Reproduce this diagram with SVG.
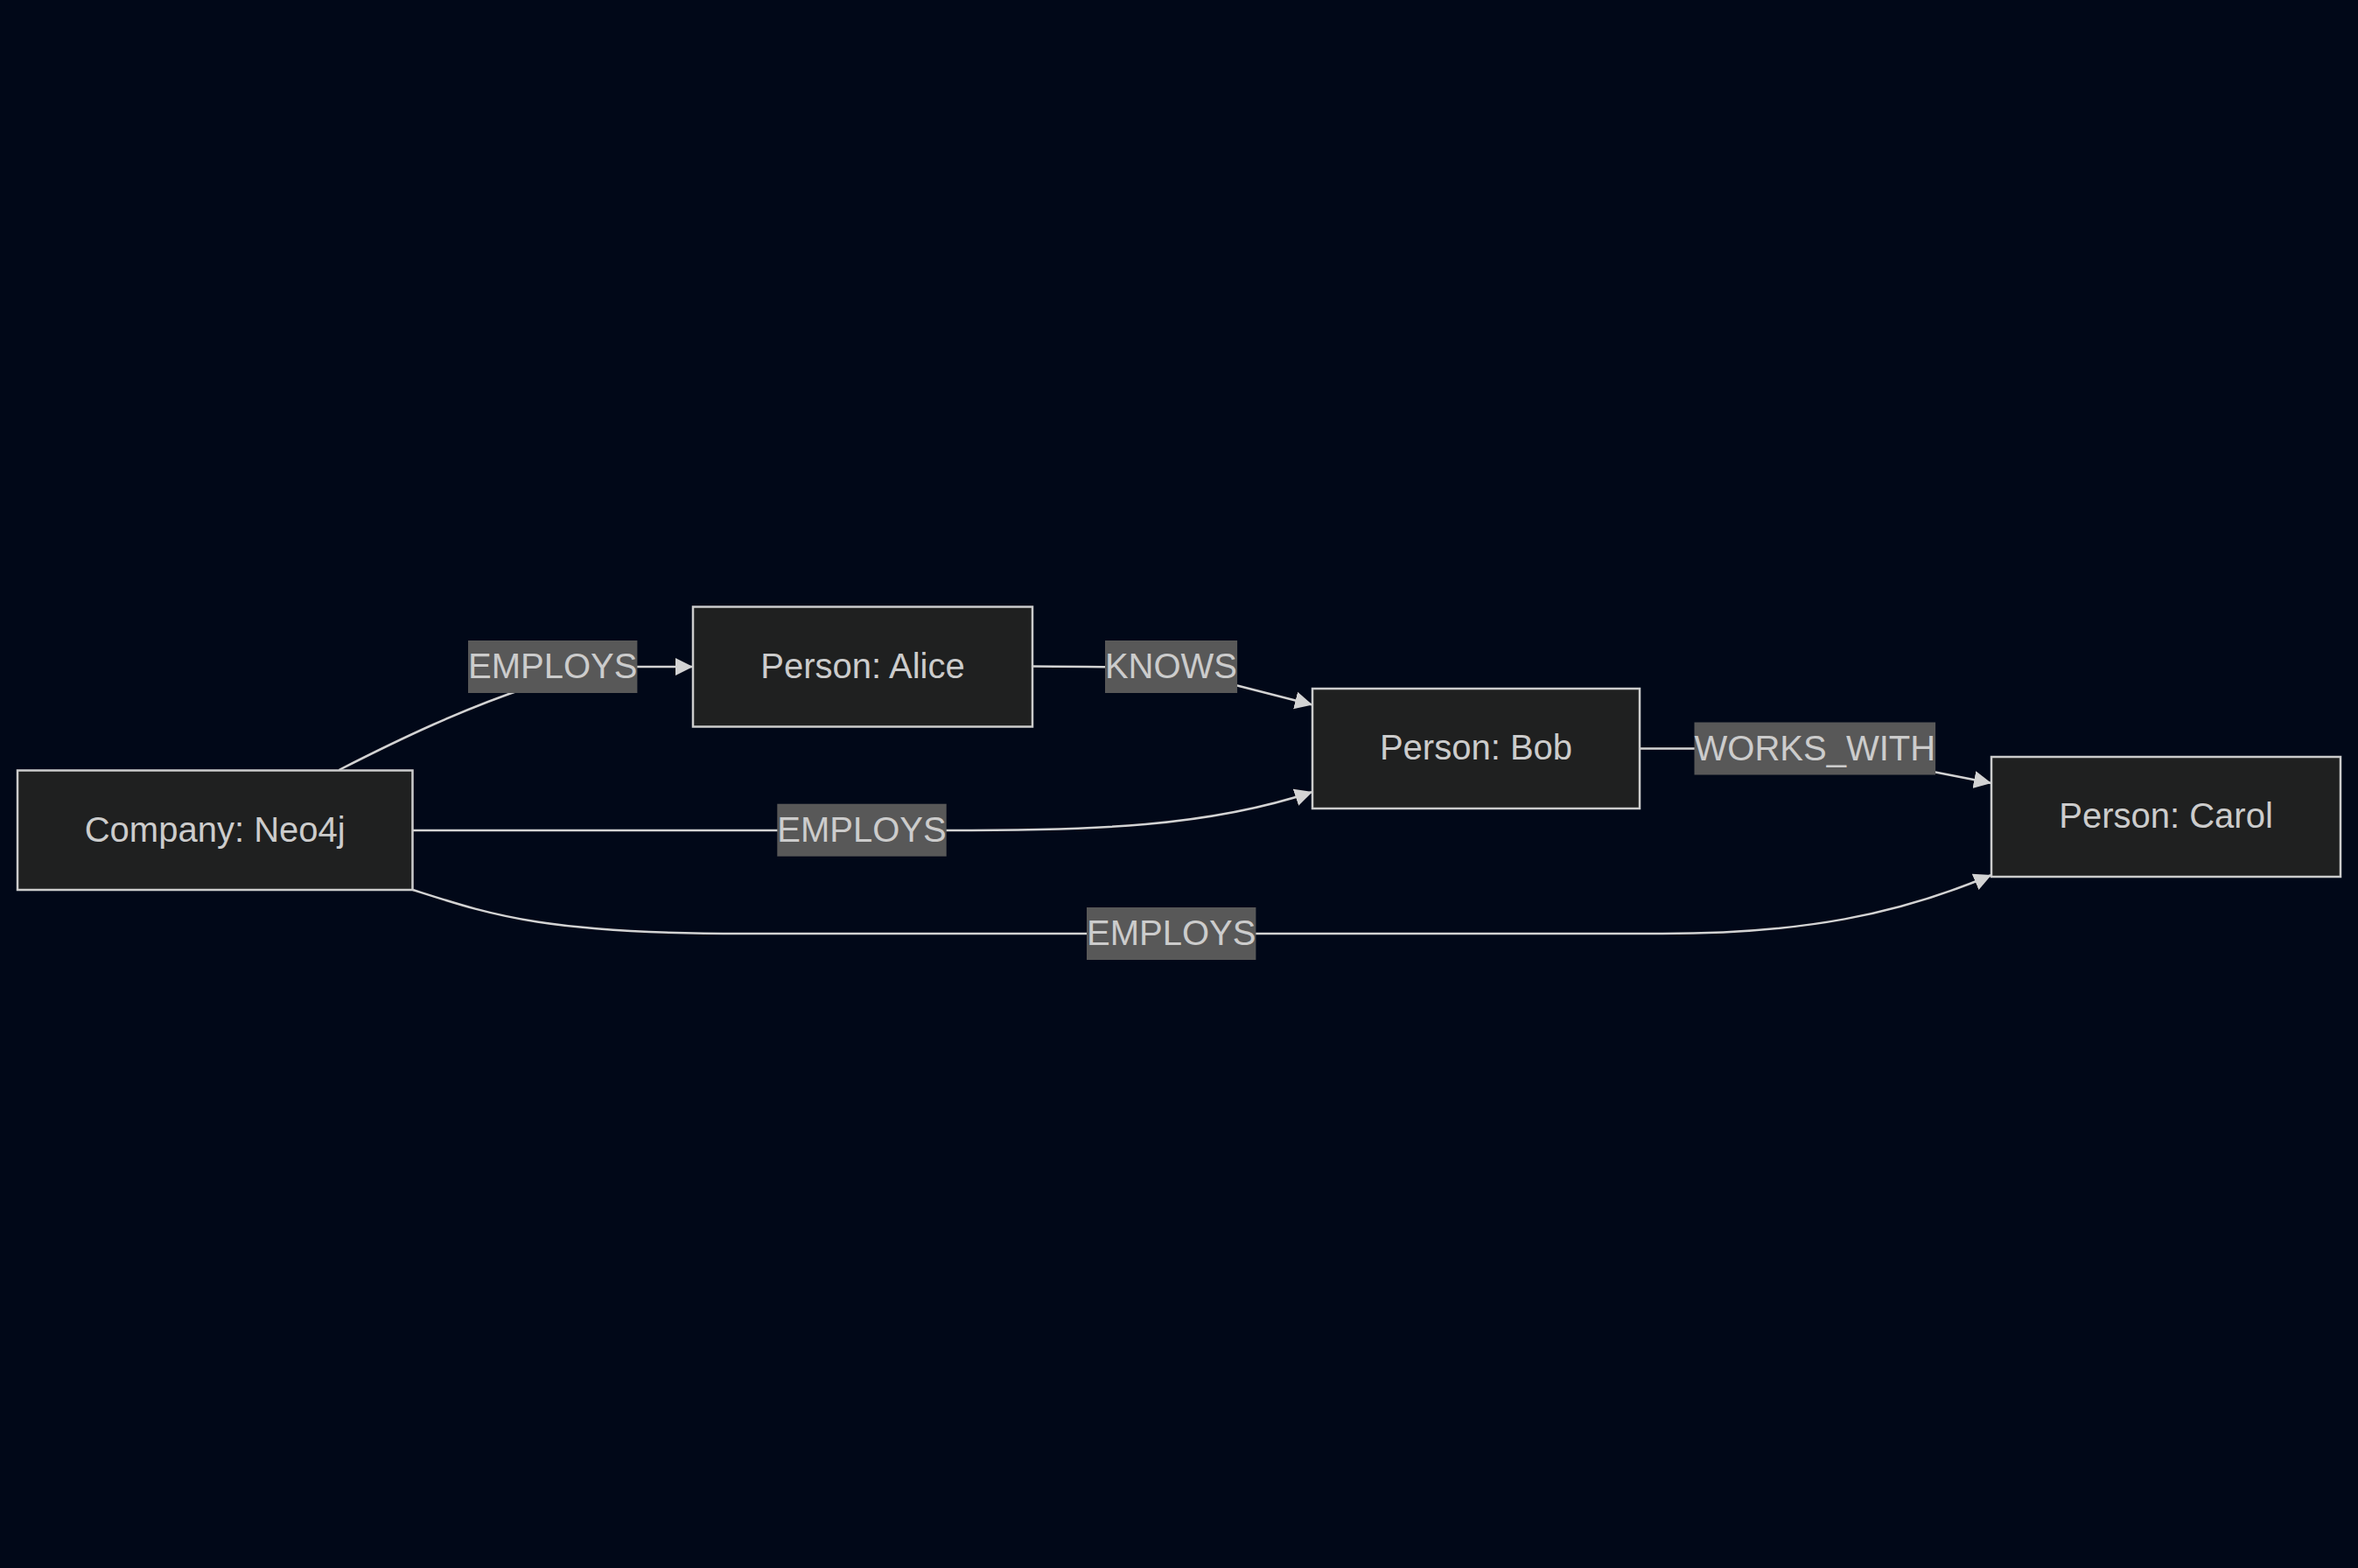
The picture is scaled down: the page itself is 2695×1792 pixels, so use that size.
<svg xmlns="http://www.w3.org/2000/svg" width="2695" height="1792" viewBox="0 0 2695 1792">
<style>
.node rect{fill:#1f2020;stroke:#cccccc;stroke-width:2.5}
.node text,.elabel text{font-family:"Liberation Sans",Arial,sans-serif;font-size:40px;fill:#cccccc;text-anchor:middle}
.edge{fill:none;stroke:#d3d3d3;stroke-width:2.5}
.elabel rect{fill:#585858}
</style>
<defs>
<marker id="arrow" viewBox="0 0 10 10" refX="10" refY="5" markerUnits="userSpaceOnUse" markerWidth="20" markerHeight="21" orient="auto">
<path d="M0,0 L10,5 L0,10 z" fill="#d3d3d3"/>
</marker>
</defs>
<rect x="0" y="0" width="2695" height="1792" fill="#010818"/>
<g id="edges">
<path class="edge" d="M387.5,880 C460,843 530,810 605,785 C625,776 640,762 660,762 L792,762" marker-end="url(#arrow)"/>
<path class="edge" d="M472,949 L1082,949 C1250,949 1380,945 1500,905" marker-end="url(#arrow)"/>
<path class="edge" d="M472,1017 C560,1045 620,1067 850,1067 L1900,1067 C2060,1067 2170,1045 2276,1000" marker-end="url(#arrow)"/>
<path class="edge" d="M1180,761.5 Q1300,762 1338,764 L1500,805.5" marker-end="url(#arrow)"/>
<path class="edge" d="M1874,855.5 L2074,855.5 L2276,895" marker-end="url(#arrow)"/>
</g>
<g id="edge-labels">
<g class="elabel" id="label-employs-alice"><rect x="535" y="732" width="193.4" height="60"/><text x="631.7" y="775">EMPLOYS</text></g>
<g class="elabel" id="label-employs-bob"><rect x="888.3" y="918.7" width="193.4" height="60"/><text x="985" y="961.7">EMPLOYS</text></g>
<g class="elabel" id="label-employs-carol"><rect x="1242" y="1037" width="193.4" height="60"/><text x="1338.7" y="1080">EMPLOYS</text></g>
<g class="elabel" id="label-knows"><rect x="1263" y="732" width="151.1" height="60"/><text x="1338.5" y="775">KNOWS</text></g>
<g class="elabel" id="label-works-with"><rect x="1936.5" y="825.5" width="275.6" height="60"/><text x="2074.3" y="868.5">WORKS_WITH</text></g>
</g>
<g class="node" id="node-company"><rect x="20" y="880.5" width="451.5" height="136.5"/><text x="245.7" y="961.5">Company: Neo4j</text></g>
<g class="node" id="node-alice"><rect x="792" y="693.5" width="388" height="137"/><text x="986" y="775">Person: Alice</text></g>
<g class="node" id="node-bob"><rect x="1500" y="787" width="374" height="137"/><text x="1687" y="868">Person: Bob</text></g>
<g class="node" id="node-carol"><rect x="2276" y="865" width="399" height="137"/><text x="2475.5" y="946">Person: Carol</text></g>
</svg>
